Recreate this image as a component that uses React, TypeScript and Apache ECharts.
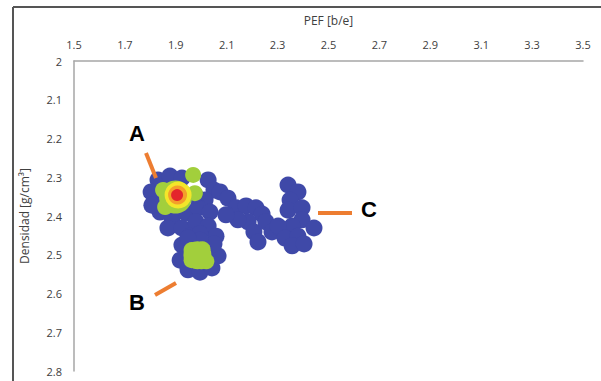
import React, { useEffect, useRef } from "react";
import * as echarts from "echarts";

const xTicks = [1.5, 1.7, 1.9, 2.1, 2.3, 2.5, 2.7, 2.9, 3.1, 3.3, 3.5];
const yTicks = [2, 2.1, 2.2, 2.3, 2.4, 2.5, 2.6, 2.7, 2.8];

// [PEF, Densidad]
const bluePoints = [
  [1.83, 2.307], [1.877, 2.297], [1.924, 2.302], [2.027, 2.307], [2.05, 2.333],
  [2.015, 2.359], [1.818, 2.354], [1.838, 2.39], [1.885, 2.405], [1.94, 2.392],
  [1.987, 2.379], [2.034, 2.39], [2.074, 2.338], [1.869, 2.431], [1.924, 2.431],
  [1.979, 2.415], [2.027, 2.426], [2.058, 2.452], [1.956, 2.452], [1.995, 2.446],
  [1.975, 2.346], [1.803, 2.338], [1.806, 2.372],
  [2.105, 2.354], [2.137, 2.379], [2.176, 2.374], [2.215, 2.379], [2.239, 2.395],
  [2.184, 2.415], [2.207, 2.441], [2.223, 2.467], [2.254, 2.415], [2.278, 2.441],
  [2.309, 2.431], [2.144, 2.41], [2.097, 2.397],
  [2.341, 2.32], [2.38, 2.338], [2.349, 2.359], [2.341, 2.385], [2.396, 2.379],
  [2.396, 2.41], [2.443, 2.431], [2.357, 2.426], [2.302, 2.426], [2.329, 2.457],
  [2.38, 2.452], [2.357, 2.477], [2.404, 2.472],
  [1.924, 2.475], [1.917, 2.514], [1.948, 2.539], [1.995, 2.545], [2.042, 2.534],
  [2.066, 2.503], [2.05, 2.472], [1.995, 2.462], [1.948, 2.457],
];
const greenPoints = [
  [1.962, 2.488], [2.005, 2.486], [1.962, 2.514], [2.0, 2.517], [2.02, 2.517],
  [1.968, 2.294], [1.858, 2.377], [1.975, 2.341], [1.85, 2.333],
];
const greenCore = [[1.899, 2.351]];
const greenBlob = [[1.985, 2.501]];
const yellowPoints = [[1.909, 2.346]];
const orangePoints = [[1.907, 2.346]];
const redPoints = [[1.905, 2.346]];

const labels = [
  { text: "A", x: 137, y: 133, line: [[146, 153], [156, 178]] },
  { text: "B", x: 137, y: 302, line: [[155, 295], [176, 283]] },
  { text: "C", x: 369, y: 209, line: [[318, 213], [352, 213]] },
];

export default function App() {
  const ref = useRef<HTMLDivElement>(null);
  useEffect(() => {
    if (!ref.current) return;
    const chart = echarts.init(ref.current, null, { renderer: "svg" });
    const font = "Open Sans, Liberation Sans, sans-serif";
    const labelFont = { fontFamily: font, fontSize: 11, color: "#404040" };
    const graphics: any[] = [
      { type: "line", shape: { x1: 13, y1: 7, x2: 13, y2: 381 }, style: { stroke: "#555", lineWidth: 2 } },
      { type: "line", shape: { x1: 13, y1: 7, x2: 601, y2: 7 }, style: { stroke: "#555", lineWidth: 2 } },
    ];
    labels.forEach((l) => {
      graphics.push({
        type: "line",
        shape: { x1: l.line[0][0], y1: l.line[0][1], x2: l.line[1][0], y2: l.line[1][1] },
        style: { stroke: "#ed7d31", lineWidth: 4 },
        z: 10,
      });
      graphics.push({
        type: "text",
        x: l.x,
        y: l.y,
        style: {
          text: l.text,
          fontFamily: "Liberation Sans, Arial, sans-serif",
          fontWeight: "bold",
          fontSize: 22,
          fill: "#000",
          align: "center",
          verticalAlign: "middle",
        },
        z: 10,
      });
    });
    const sc = (data: number[][], color: string, size: number, z: number) => ({
      type: "scatter",
      data,
      symbolSize: size,
      itemStyle: { color, opacity: 1 },
      z,
      silent: true,
    });
    chart.setOption({
      animation: false,
      backgroundColor: "#fff",
      grid: { left: 74, right: 18, top: 61, bottom: 10, containLabel: false, outerBoundsMode: "none" },
      xAxis: {
        type: "value",
        position: "top",
        min: 1.5,
        max: 3.5,
        name: "PEF [b/e]",
        nameLocation: "middle",
        nameGap: 35,
        nameTextStyle: { fontFamily: font, fontSize: 12, color: "#404040" },
        axisLine: { show: true, lineStyle: { color: "#a6a6a6", width: 1.5 } },
        axisTick: { show: false },
        splitLine: { show: false },
        axisLabel: { ...labelFont, margin: 11, customValues: xTicks, formatter: (v: number) => String(+v.toFixed(1)) },
      },
      yAxis: {
        type: "value",
        inverse: true,
        min: 2,
        max: 2.8,
        interval: 0.1,
        name: "Densidad [g/cm³]",
        nameLocation: "middle",
        nameGap: 44,
        nameRotate: 90,
        nameTextStyle: { fontFamily: font, fontSize: 12, color: "#404040" },
        axisLine: { show: true, lineStyle: { color: "#a6a6a6", width: 1.5 } },
        axisTick: { show: false },
        splitLine: { show: false },
        axisLabel: { ...labelFont, margin: 12, customValues: yTicks, formatter: (v: number) => String(+v.toFixed(1)) },
      },
      series: [
        sc(bluePoints, "#3f49a8", 17, 2),
        sc(greenPoints, "#a2cf3c", 16, 3),
        sc(greenBlob, "#a2cf3c", 28, 4),
        sc(greenCore, "#a2cf3c", 33, 4),
        sc(yellowPoints, "#f3e62a", 27, 5),
        sc(orangePoints, "#f4a02a", 19, 6),
        sc(redPoints, "#e4262c", 12, 7),
      ],
      graphic: graphics,
    });
    return () => chart.dispose();
  }, []);
  return <div ref={ref} style={{ position: "fixed", left: 0, top: 0, width: 601, height: 381 }} />;
}
